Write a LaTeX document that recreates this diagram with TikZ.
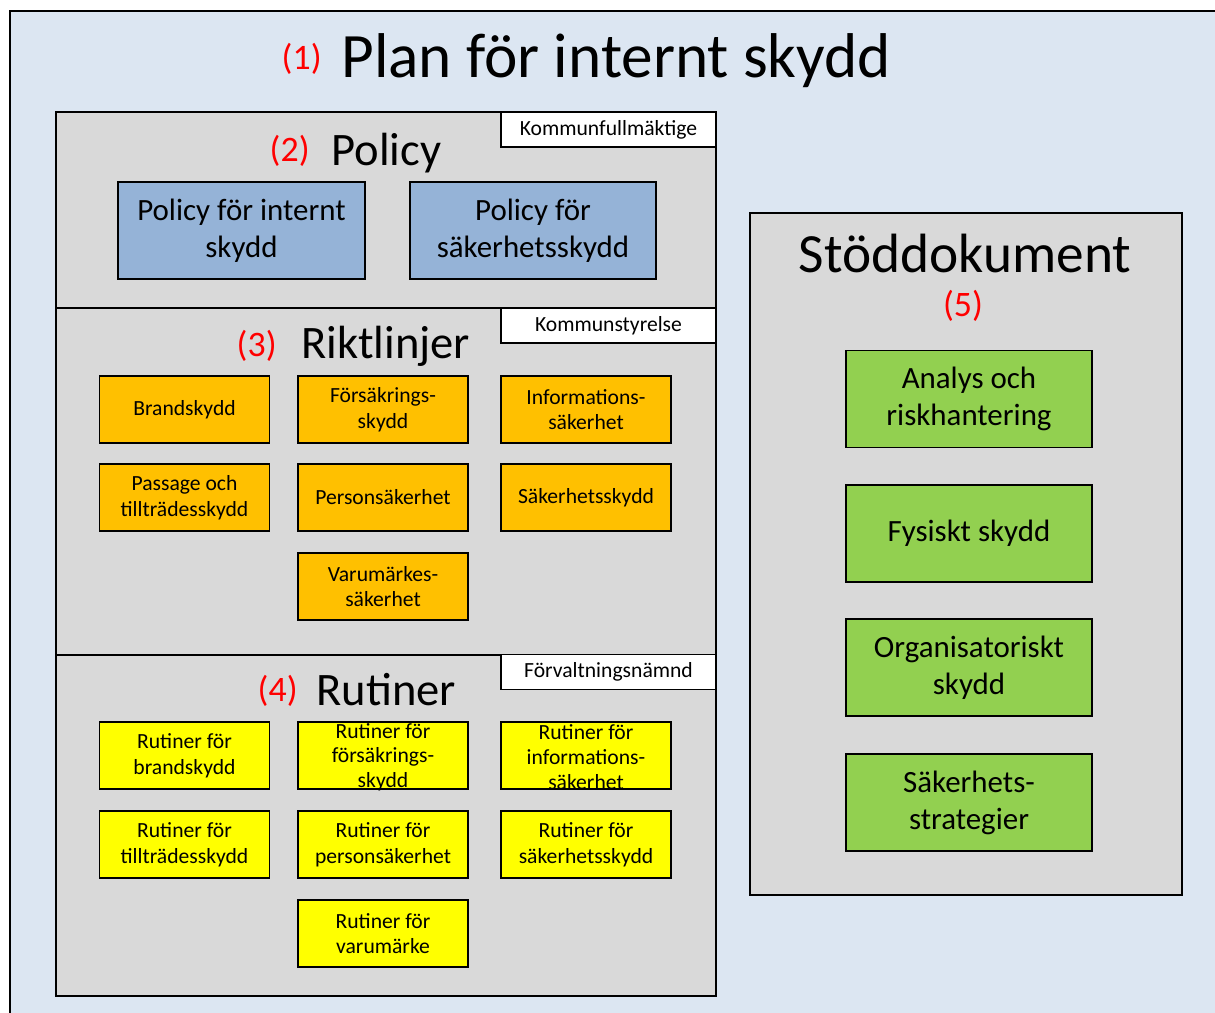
\documentclass[tikz,border=0pt]{standalone}
\usepackage{fontspec}
\setmainfont{Carlito}
\definecolor{bgblue}{HTML}{DCE6F2}
\definecolor{panelgray}{HTML}{D9D9D9}
\definecolor{polblue}{HTML}{95B3D7}
\definecolor{riktorange}{HTML}{FFC000}
\definecolor{rutyellow}{HTML}{FFFF00}
\definecolor{stodgreen}{HTML}{92D050}
\tikzstyle{panel} = [draw=black,line width=0.9pt,fill=panelgray]
\tikzstyle{tag} = [draw=black,line width=0.9pt,fill=white,minimum width=4.3cm,minimum height=0.7cm,inner sep=0pt,font=\fontsize{12.3}{14.8}\selectfont]
\tikzstyle{smallbox} = [draw=black,line width=0.9pt,minimum width=3.4cm,minimum height=1.34cm,inner sep=0pt,align=center,font=\fontsize{12.3}{14.6}\selectfont]
\tikzstyle{overtext} = [align=center,inner sep=0pt,font=\fontsize{12.3}{14.2}\selectfont]
\tikzstyle{bigbox} = [draw=black,line width=0.9pt,minimum width=4.93cm,minimum height=1.94cm,inner sep=0pt,align=center,font=\fontsize{17.6}{21}\selectfont]
\tikzstyle{num} = [text=red,inner sep=0pt,font=\fontsize{20.4}{24}\selectfont]
\tikzstyle{head} = [inner sep=0pt,font=\fontsize{26.5}{30}\selectfont]

\begin{document}
\begin{tikzpicture}[x=0.02cm,y=-0.02cm]
          \useasboundingbox (0,0) rectangle (1215,1012);
          \clip (0,0) rectangle (1215,1012);
          \fill[white] (0,0) rectangle (1215,1012);
          \draw[line width=1pt,fill=bgblue] (10,11) rectangle (1240,1040);

          % (1) title
          \node[num,anchor=base east] (n1) at (322,69) {(1)};
          \node[inner sep=0pt,anchor=base west,font=\fontsize{36}{40}\selectfont] (title) at (341,77) {Plan för internt skydd};

          % (2) Policy
          \draw[panel] (56,112) rectangle (716,308);
          \node[tag] (kf) at (608.5,129.5) {Kommunfullmäktige};
          \node[num,anchor=base east] (n2) at (310,161) {(2)};
          \node[head,anchor=base west] (policy) at (331,165) {Policy};
          \node[bigbox,fill=polblue] (pint) at (241.5,230.5) {Policy för internt\\skydd};
          \node[bigbox,fill=polblue] (psak) at (533,230.5) {Policy för\\säkerhetsskydd};

          % (3) Riktlinjer
          \draw[panel] (56,308) rectangle (716,655);
          \node[tag] (ks) at (608.5,325.5) {Kommunstyrelse};
          \node[num,anchor=base east] (n3) at (277,356) {(3)};
          \node[head,anchor=base west] (rikt) at (301,358) {Riktlinjer};
          \node[smallbox,fill=riktorange] (brand) at (184.5,409.5) {Brandskydd};
          \node[smallbox,fill=riktorange] (fors) at (383,409.5) {Försäkrings-\\skydd};
          \node[smallbox,fill=riktorange] (info) at (586,409.5) {Informations-\\säkerhet};
          \node[smallbox,fill=riktorange] (pass) at (184.5,497.5) {Passage och\\tillträdesskydd};
          \node[smallbox,fill=riktorange] (pers) at (383,497.5) {Personsäkerhet};
          \node[smallbox,fill=riktorange] (sak) at (586,497.5) {Säkerhetsskydd};
          \node[smallbox,fill=riktorange] (varu) at (383,586.5) {Varumärkes-\\säkerhet};

          % (4) Rutiner
          \draw[panel] (56,655) rectangle (716,996);
          \node[tag] (fn) at (608.5,672) {Förvaltningsnämnd};
          \node[num,anchor=base east] (n4) at (298,701) {(4)};
          \node[head,anchor=base west] (rut) at (316,705) {Rutiner};
          \node[smallbox,fill=rutyellow] (rbrand) at (184.5,755.5) {Rutiner för\\brandskydd};
          \node[smallbox,fill=rutyellow] (rfors) at (383,755.5) {};
          \node[overtext] (rforstext) at ([yshift=-1pt]rfors.center) {Rutiner för\\försäkrings-\\skydd};
          \node[smallbox,fill=rutyellow] (rinfo) at (586,755.5) {};
          \node[overtext] (rinfotext) at ([yshift=-1pt]rinfo.center) {Rutiner för\\informations-\\säkerhet};
          \node[smallbox,fill=rutyellow] (rtill) at (184.5,844.5) {Rutiner för\\tillträdesskydd};
          \node[smallbox,fill=rutyellow] (rpers) at (383,844.5) {Rutiner för\\personsäkerhet};
          \node[smallbox,fill=rutyellow] (rsak) at (586,844.5) {Rutiner för\\säkerhetsskydd};
          \node[smallbox,fill=rutyellow] (rvaru) at (383,933.5) {Rutiner för\\varumärke};

          % (5) Stöddokument
          \draw[panel] (750,213) rectangle (1182,895);
          \node[inner sep=0pt,anchor=base,font=\fontsize{31.5}{36}\selectfont] (stod) at (965,272) {Stöddokument};
          \node[num,anchor=base] (n5) at (963,316) {(5)};
          \node[bigbox,fill=stodgreen] (analys) at (969,399) {Analys och\\riskhantering};
          \node[bigbox,fill=stodgreen] (fys) at (969,533.5) {Fysiskt skydd};
          \node[bigbox,fill=stodgreen] (org) at (969,667.5) {Organisatoriskt\\skydd};
          \node[bigbox,fill=stodgreen] (strat) at (969,802.5) {Säkerhets-\\strategier};
        \end{tikzpicture}
\end{document}
